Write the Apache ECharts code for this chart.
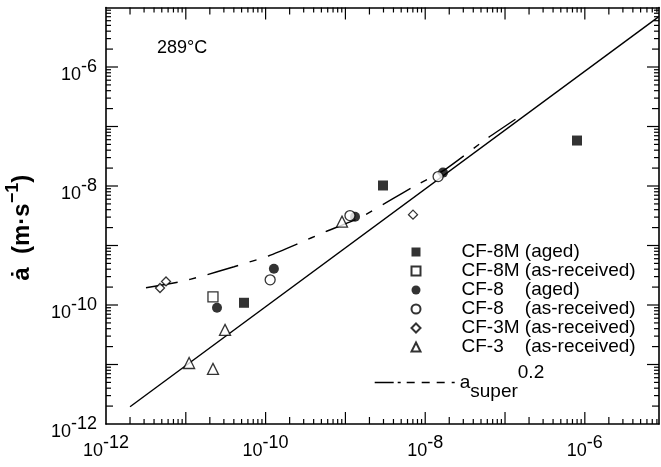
<!DOCTYPE html>
<html>
<head>
<meta charset="utf-8">
<script src="https://cdn.jsdelivr.net/npm/echarts@6/dist/echarts.min.js"></script>
<style>
  html, body { margin: 0; padding: 0; background: #fff; }
  #wrap { position: relative; width: 661px; height: 467px; }
  #chart, #frame { position: absolute; left: 0; top: 0; width: 661px; height: 467px; }
  #frame { pointer-events: none; }
</style>
</head>
<body>
<div id="wrap">
  <div id="chart"></div>
  <div id="frame"></div>
</div>
<script>
// Axis ranges (log10 scales on both axes)
const X_MIN = 1e-12, X_MAX = 8.5e-6;
const Y_MIN = 1e-12, Y_MAX = 1e-5;
const LABELLED_EXPONENTS = [-12, -10, -8, -6];
const X_DECADES = [-11, -10, -9, -8, -7, -6];
const Y_DECADES = [-11, -10, -9, -8, -7, -6];

// Crack growth rates: [rate in air, rate in 289°C water] (m/s)
const cf8mAged       = [[5.36e-11, 1.09e-10], [2.96e-9, 1.02e-8], [7.98e-7, 5.81e-8]];
const cf8mAsReceived = [[2.19e-11, 1.37e-10]];
const cf8Aged        = [[2.46e-11, 8.97e-11], [1.27e-10, 4.06e-10], [1.32e-9, 3.05e-9], [1.67e-8, 1.68e-8]];
const cf8AsReceived  = [[1.14e-10, 2.65e-10], [1.14e-9, 3.18e-9], [1.45e-8, 1.44e-8]];
const cf3mAsReceived = [[4.75e-12, 1.93e-10], [5.65e-12, 2.49e-10], [7.03e-9, 3.30e-9]];
const cf3AsReceived  = [[3.10e-11, 3.82e-11], [1.10e-11, 1.06e-11], [2.19e-11, 8.43e-12], [9.06e-10, 2.52e-9]];

// Reference lines
const unityLine = [[2.0e-12, 1.95e-12], [8.3e-6, 6.9e-6]];
const superCurve = [
  [3.17e-12, 1.95e-10], [8.45e-12, 2.46e-10], [1.51e-11, 2.99e-10], [4.02e-11, 4.40e-10],
  [1.10e-10, 6.73e-10], [2.70e-10, 1.11e-9], [5.24e-10, 1.64e-9], [1.52e-9, 2.94e-9],
  [3.94e-9, 6.14e-9], [6.84e-9, 9.40e-9], [1.77e-8, 1.89e-8], [5.94e-8, 6.28e-8],
  [1.46e-7, 1.42e-7]
];

const SERIES_NAMES = [
  'CF-8M (aged)',
  'CF-8M (as-received)',
  'CF-8    (aged)',
  'CF-8    (as-received)',
  'CF-3M (as-received)',
  'CF-3    (as-received)'
];
const CURVE_NAME = 'a super 0.2';

const FONT = '"Liberation Sans", Arial, Helvetica, sans-serif';
const MAJOR_LEN = 12, MINOR_LEN = 5, MINOR2_LEN = 7, TICK_W = 1.2;

// Decade and 2..9 sub-decade tick values with their lengths
function tickValues(decades, maxVal) {
  const out = [];
  decades.forEach(function (e) { out.push([Math.pow(10, e), MAJOR_LEN]); });
  for (let e = -12; e < -5; e++) {
    for (let m = 2; m <= 9; m++) {
      const v = m * Math.pow(10, e);
      if (v < maxVal) out.push([v, m === 2 ? MINOR2_LEN : MINOR_LEN]);
    }
  }
  return out;
}
const xTicks = tickValues(X_DECADES, X_MAX);
const yTicks = tickValues(Y_DECADES, Y_MAX);

function powerLabel(v) {
  const lg = Math.log10(v);
  const e = Math.round(lg);
  if (Math.abs(lg - e) > 1e-6 || LABELLED_EXPONENTS.indexOf(e) < 0) return '';
  return '{b|10}{e|' + e + '}';
}
const powerRich = {
  b: { fontFamily: FONT, fontSize: 18, lineHeight: 18, color: '#000', padding: [8, 0, 0, 0], verticalAlign: 'top' },
  e: { fontFamily: FONT, fontSize: 18, lineHeight: 18, color: '#000', verticalAlign: 'top' }
};

const frameLine = { show: true, onZero: false, lineStyle: { color: '#000', width: 1.6 } };

function logAxis(extra) {
  return Object.assign({
    type: 'log', logBase: 10,
    axisLine: frameLine, axisTick: { show: false },
    splitLine: { show: false }, minorTick: { show: false }
  }, extra);
}

const GRID = { left: 106, right: 2, top: 7.5, bottom: 43, containLabel: false, outerBoundsMode: 'none' };

const openMarker = { color: '#fff', borderColor: '#000', borderWidth: 1.3 };
const solidMarker = { color: '#000', borderColor: '#000', borderWidth: 0 };

function scatter(name, data, symbol, size, style) {
  return { type: 'scatter', name, data, symbol, symbolSize: size, itemStyle: style, z: 5, silent: true };
}

const option = {
  animation: false,
  backgroundColor: '#fff',
  grid: GRID,
  title: {
    text: '289°C', left: 157, top: 39, padding: 0,
    textStyle: { fontFamily: FONT, fontSize: 18, fontWeight: 'normal', color: '#000' }
  },
  xAxis: [
    logAxis({
      min: X_MIN, max: X_MAX, position: 'bottom',
      axisLabel: { show: true, interval: 0, margin: 10, formatter: powerLabel, rich: powerRich, hideOverlap: false }
    }),
    logAxis({ min: X_MIN, max: X_MAX, position: 'top', axisLabel: { show: false } })
  ],
  yAxis: [
    logAxis({
      min: Y_MIN, max: Y_MAX, position: 'left',
      axisLabel: { show: true, interval: 0, margin: 9, formatter: powerLabel, rich: powerRich, hideOverlap: false },
      name: '{t|ȧ  (m·s}{s|−1}{t|)}',
      nameLocation: 'middle', nameRotate: 90, nameGap: 78,
      nameTextStyle: {
        padding: [0, 24, 0, 0],
        rich: {
          t: { fontFamily: FONT, fontSize: 24, fontWeight: 'bold', lineHeight: 24, color: '#000', padding: [6, 0, 0, 0], verticalAlign: 'top' },
          s: { fontFamily: FONT, fontSize: 18, fontWeight: 'bold', lineHeight: 18, color: '#000', verticalAlign: 'top' }
        }
      }
    }),
    logAxis({ min: Y_MIN, max: Y_MAX, position: 'right', axisLabel: { show: false } })
  ],
  legend: [
    {
      data: SERIES_NAMES,
      orient: 'vertical', left: 410.5, top: 242.5, padding: 0, itemGap: 0,
      itemWidth: 9, itemHeight: 9, selectedMode: false,
      textStyle: { fontFamily: FONT, fontSize: 19, lineHeight: 19, color: '#000', padding: [0, 0, 0, 36] }
    },
    {
      data: [CURVE_NAME],
      orient: 'vertical', left: 374, top: 363, padding: 0,
      itemWidth: 80, itemHeight: 8, selectedMode: false,
      itemStyle: { opacity: 0 },
      lineStyle: { color: '#000', width: 1.4, type: [19, 4, 3, 6, 8, 7, 8, 7, 8, 7] },
      formatter: function () { return '{a|a}{sub|super}{sup|0.2}'; },
      textStyle: {
        color: '#000',
        padding: [0, 0, 20, 0],
        rich: {
          a:   { fontFamily: FONT, fontSize: 19, lineHeight: 19, color: '#000', padding: [10, 0, 0, 0], verticalAlign: 'top' },
          sub: { fontFamily: FONT, fontSize: 19, lineHeight: 19, color: '#000', padding: [19, 0, 0, 0], verticalAlign: 'top' },
          sup: { fontFamily: FONT, fontSize: 19, lineHeight: 19, color: '#000', verticalAlign: 'top' }
        }
      }
    }
  ],
  series: [
    {
      type: 'line', name: 'unity', data: unityLine, symbol: 'none', silent: true, z: 2,
      lineStyle: { color: '#000', width: 1.4 }
    },
    {
      type: 'line', name: CURVE_NAME, data: superCurve, symbol: 'none', silent: true, z: 2,
      smooth: 0.2, itemStyle: { color: '#000' },
      lineStyle: { color: '#000', width: 1.4, type: [32, 12, 7, 12] }
    },
    scatter(SERIES_NAMES[0], cf8mAged, 'rect', 10, solidMarker),
    scatter(SERIES_NAMES[1], cf8mAsReceived, 'rect', 10, openMarker),
    scatter(SERIES_NAMES[2], cf8Aged, 'circle', 10, solidMarker),
    scatter(SERIES_NAMES[3], cf8AsReceived, 'circle', 10, openMarker),
    scatter(SERIES_NAMES[4], cf3mAsReceived, 'diamond', 9, openMarker),
    scatter(SERIES_NAMES[5], cf3AsReceived, 'triangle', 11, openMarker)
  ]
};

const chart = echarts.init(document.getElementById('chart'), null, { renderer: 'canvas' });
try {
  chart.setOption(option);
} catch (err) {
  console.error(err);
}

// Transparent overlay with the same grid and scales, carrying the inward frame ticks
const frame = echarts.init(document.getElementById('frame'), null, { renderer: 'canvas' });
const hiddenAxis = {
  type: 'log', logBase: 10,
  axisLine: { show: false }, axisTick: { show: false }, axisLabel: { show: false },
  splitLine: { show: false }, minorTick: { show: false }
};
frame.setOption({
  animation: false,
  backgroundColor: 'transparent',
  grid: GRID,
  xAxis: [Object.assign({}, hiddenAxis, { min: X_MIN, max: X_MAX })],
  yAxis: [Object.assign({}, hiddenAxis, { min: Y_MIN, max: Y_MAX })]
});

function tickLine(x1, y1, x2, y2) {
  return {
    type: 'line', silent: true, z: 10,
    shape: { x1: x1, y1: y1, x2: x2, y2: y2 },
    style: { stroke: '#000', lineWidth: TICK_W }
  };
}
function frameTicks() {
  const els = [];
  const yb = frame.convertToPixel({ yAxisIndex: 0 }, Y_MIN);
  const yt = frame.convertToPixel({ yAxisIndex: 0 }, Y_MAX);
  const xl = frame.convertToPixel({ xAxisIndex: 0 }, X_MIN);
  const xr = frame.convertToPixel({ xAxisIndex: 0 }, X_MAX);
  xTicks.forEach(function (t) {
    const x = frame.convertToPixel({ xAxisIndex: 0 }, t[0]);
    els.push(tickLine(x, yb, x, yb - t[1]));
    els.push(tickLine(x, yt, x, yt + t[1]));
  });
  yTicks.forEach(function (t) {
    const y = frame.convertToPixel({ yAxisIndex: 0 }, t[0]);
    els.push(tickLine(xl, y, xl + t[1], y));
    els.push(tickLine(xr, y, xr - t[1], y));
  });
  return els;
}
frame.setOption({ graphic: { elements: frameTicks() } });
</script>
</body>
</html>
